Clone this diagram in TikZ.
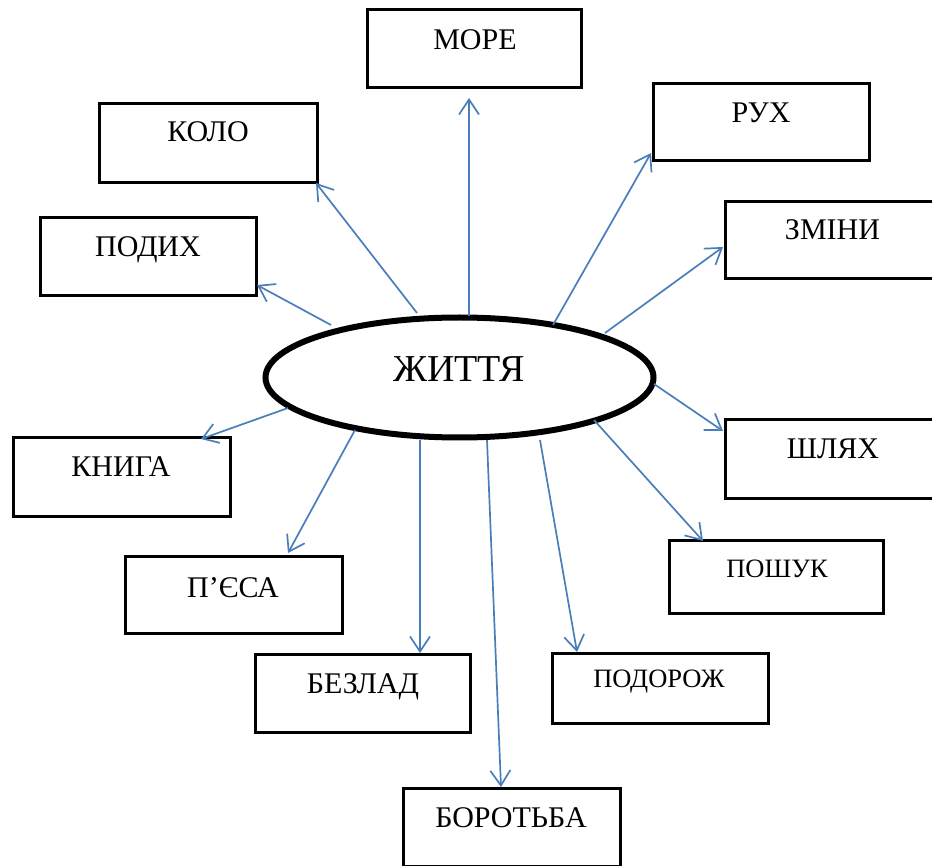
\documentclass[tikz,border=0pt]{standalone}
\usepackage{fontspec}
\setmainfont{Liberation Serif}
\usetikzlibrary{shapes.geometric,arrows.meta,calc}
\definecolor{arrblue}{HTML}{4A7EBB}
\tikzset{
  box/.style={draw=black, line width=3pt, rectangle, inner sep=0pt, outer sep=0pt, fill=white},
  lbl/.style={inner sep=0pt, anchor=base, font=\fontsize{30}{35}\selectfont},
  lbls/.style={inner sep=0pt, anchor=base, font=\fontsize{26.5}{31}\selectfont},
  arr/.style={draw=arrblue, line width=1.7pt, -{Straight Barb[length=15pt,width=20pt,line width=1.7pt]}}
}
\begin{document}
\begin{tikzpicture}[x=1pt,y=-1pt]
\useasboundingbox (0,0) rectangle (932,866);
\fill[white] (0,0) rectangle (932,866);
% ellipse
\node[draw=black, line width=6pt, ellipse, minimum width=388pt, minimum height=120pt, inner sep=0pt, outer sep=0pt] (ell) at (459.5,377.5) {};
\node[inner sep=0pt, anchor=base, font=\fontsize{38}{44}\selectfont] (zh) at (459,381.5) {ЖИТТЯ};
% boxes
\node[box, minimum width=214pt, minimum height=78pt] (more) at (474,49) {};
\node[box, minimum width=218pt, minimum height=79pt] (kolo) at (208,143.5) {};
\node[box, minimum width=216pt, minimum height=77pt] (rukh) at (761,122.5) {};
\node[box, minimum width=216pt, minimum height=78pt] (podykh) at (148,257) {};
\node[box, minimum width=215pt, minimum height=77pt] (zminy) at (832.5,240.5) {};
\node[box, minimum width=215pt, minimum height=78pt] (shliakh) at (832.5,459) {};
\node[box, minimum width=217pt, minimum height=78pt] (knyha) at (121.5,477) {};
\node[box, minimum width=214pt, minimum height=73pt] (poshuk) at (776,576.5) {};
\node[box, minimum width=217pt, minimum height=77pt] (piesa) at (233.5,594.5) {};
\node[box, minimum width=215pt, minimum height=78pt] (bezlad) at (362.5,693) {};
\node[box, minimum width=216pt, minimum height=70pt] (podorozh) at (660,688) {};
\node[box, minimum width=217pt, minimum height=78pt] (borotba) at (511.5,827) {};
% labels
\node[lbl] (tmore) at (475,50) {МОРЕ};
\node[lbl] (tkolo) at (208,142) {КОЛО};
\node[lbl] (trukh) at (761,123) {РУХ};
\node[lbl] (tpodykh) at (148,257) {ПОДИХ};
\node[lbl] (tzminy) at (832.5,240) {ЗМІНИ};
\node[lbl] (tshliakh) at (833,458) {ШЛЯХ};
\node[lbl] (tknyha) at (121,476) {КНИГА};
\node[lbls] (tposhuk) at (777,577) {ПОШУК};
\node[lbl] (tpiesa) at (233,597) {П’ЄСА};
\node[lbl] (tbezlad) at (363,693) {БЕЗЛАД};
\node[lbls] (tpodorozh) at (659,687) {ПОДОРОЖ};
\node[lbl] (tborotba) at (511,827) {БОРОТЬБА};
% arrows
\draw[arr] ($(ell.center)+(9.5,-61.5)$) -- ($(more.south)+(-5,10)$);
\draw[arr] ($(ell.center)+(-42.5,-64.5)$) -- ($(kolo.south east)+(-1,0)$);
\draw[arr] ($(ell.center)+(93.5,-52.5)$) -- ($(rukh.south west)+(-2,-8)$);
\draw[arr] ($(ell.center)+(-128.5,-52.5)$) -- ($(podykh.south east)+(1,-11)$);
\draw[arr] ($(ell.center)+(145.5,-44.5)$) -- ($(zminy.west)+(-2,6.5)$);
\draw[arr] ($(ell.center)+(194.5,6.5)$) -- ($(shliakh.north west)+(-2,11)$);
\draw[arr] ($(ell.center)+(-171.5,30.5)$) -- ($(knyha.north east)+(-29,1)$);
\draw[arr] ($(ell.center)+(134.5,42.5)$) -- ($(poshuk.north west)+(34,1)$);
\draw[arr] ($(ell.center)+(-104.5,52.5)$) -- ($(piesa.north east)+(-54,-3)$);
\draw[arr] ($(ell.center)+(-39.5,62.5)$) -- ($(bezlad.north)+(57.5,-1)$);
\draw[arr] ($(ell.center)+(80.5,62.5)$) -- ($(podorozh.north west)+(25,-1)$);
\draw[arr] ($(ell.center)+(27.5,62.5)$) -- ($(borotba.north)+(-10.5,-1)$);
\end{tikzpicture}
\end{document}
